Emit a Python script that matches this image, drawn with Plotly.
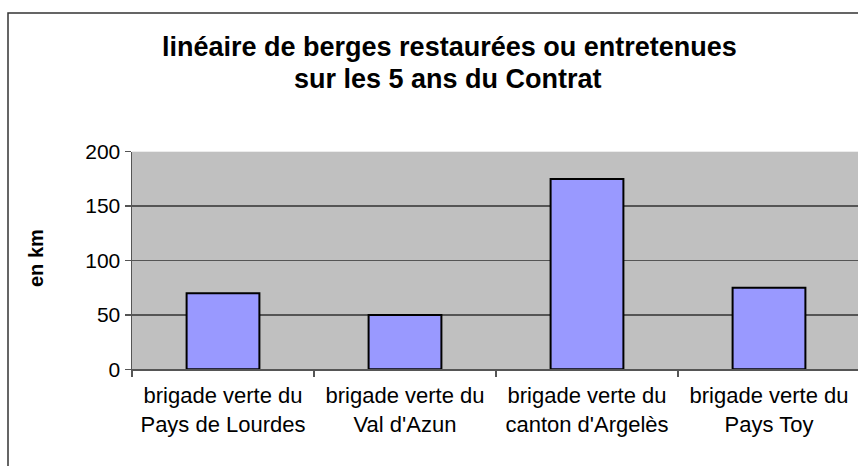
import plotly.graph_objects as go

categories = [
    "brigade verte du<br>Pays de Lourdes",
    "brigade verte du<br>Val d'Azun",
    "brigade verte du<br>canton d'Argelès",
    "brigade verte du<br>Pays Toy",
]
values_km = [70, 50, 175, 75]
y_ticks = [0, 50, 100, 150, 200]
title_lines = ["linéaire de berges restaurées ou entretenues", "sur les 5 ans du Contrat"]
y_title = "en km"

W, H = 858, 466
plot_left, plot_top, plot_bottom = 132, 151.7, 369.3
cat_w = 182.0

x_pos = list(range(len(categories)))

fig = go.Figure()
fig.add_trace(go.Bar(
    x=x_pos, y=values_km, width=0.4,
    marker=dict(color="#9999FF", line=dict(color="#000000", width=2)),
    hoverinfo="skip",
))

FONT = "Liberation Sans, Arial, sans-serif"

fig.update_layout(
    width=W, height=H, autosize=False,
    margin=dict(l=0, r=0, t=0, b=0, pad=0, autoexpand=False),
    paper_bgcolor="white",
    plot_bgcolor="#C0C0C0",
    showlegend=False,
    font=dict(family=FONT, color="black"),
    xaxis=dict(
        domain=[plot_left / W, 1],
        range=[-0.5, -0.5 + (W - plot_left) / cat_w],
        tickmode="array", tickvals=x_pos, ticktext=categories,
        ticks="", showgrid=False, zeroline=False, automargin=False,
        showline=True, linecolor="#555555", linewidth=1.5,
        tickfont=dict(size=22, family=FONT, color="black"),
        ticklabelstandoff=6,
        minor=dict(tickmode="array", tickvals=[-0.5, 0.5, 1.5, 2.5, 3.5],
                   ticks="outside", ticklen=6, tickcolor="#555555", tickwidth=1.5,
                   showgrid=False),
        fixedrange=True,
    ),
    yaxis=dict(
        domain=[(H - plot_bottom) / H, (H - plot_top) / H],
        range=[0, 200], automargin=False,
        tickmode="array", tickvals=y_ticks,
        ticks="outside", ticklen=6, tickcolor="#555555", tickwidth=1.5,
        showgrid=True, gridcolor="#555555", gridwidth=1.5,
        zeroline=False,
        showline=True, linecolor="#555555", linewidth=1.5,
        tickfont=dict(size=21, family=FONT, color="black"),
        fixedrange=True,
    ),
    shapes=[dict(type="rect", xref="paper", yref="paper",
                 x0=8 / W, x1=1.2, y0=-0.2, y1=1 - 13 / H,
                 line=dict(color="#333333", width=1.5), fillcolor="rgba(0,0,0,0)",
                 layer="below")],
    annotations=[
        dict(text="<b>" + title_lines[0] + "</b>", xref="paper", yref="paper",
             x=449 / W, y=1 - 47 / H, xanchor="center", yanchor="middle",
             showarrow=False, font=dict(size=27, family=FONT, color="black")),
        dict(text="<b>" + title_lines[1] + "</b>", xref="paper", yref="paper",
             x=448 / W, y=1 - 79 / H, xanchor="center", yanchor="middle",
             showarrow=False, font=dict(size=27, family=FONT, color="black")),
        dict(text="<b>" + y_title + "</b>", xref="paper", yref="paper",
             x=36 / W, y=1 - 258 / H, xanchor="center", yanchor="middle",
             textangle=-90, showarrow=False,
             font=dict(size=20, family=FONT, color="black")),
    ],
)

fig.write_html(
    "out.html",
    config={"displayModeBar": False, "staticPlot": True},
    post_script="document.body.style.margin='0';document.body.style.overflow='hidden';"
                "document.documentElement.style.overflow='hidden';",
)
